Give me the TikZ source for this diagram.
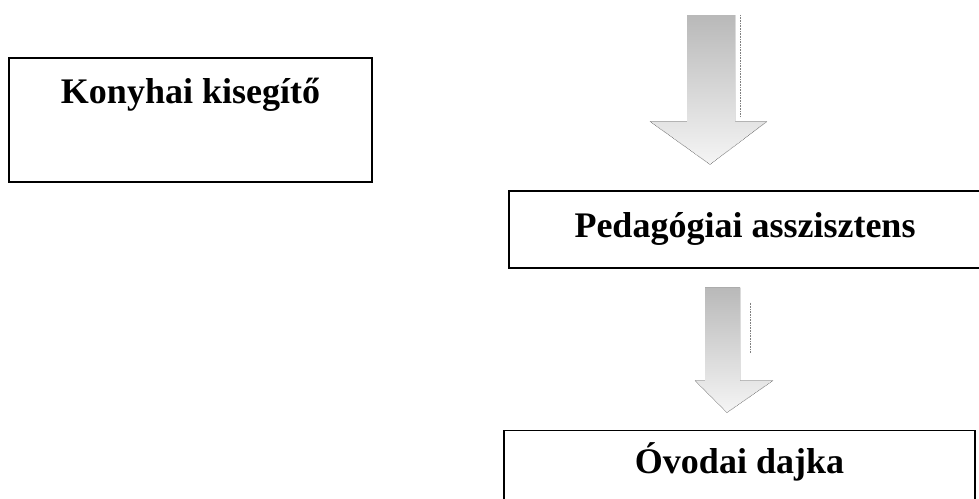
\documentclass[tikz,border=0pt]{standalone}
\usepackage{fontspec}
\setmainfont{Liberation Serif}
\usetikzlibrary{positioning,calc}

\begin{document}
\begin{tikzpicture}[
        x=1pt, y=-1pt, line width=1.1pt
    ]

    \tikzstyle{block} = [rectangle,draw,inner ysep=0pt,
        font=\bfseries\fontsize{36}{40}\selectfont]
    \tikzstyle{arrowfill} = [top color=gray!55, bottom color=gray!8, draw=none]
    \tikzstyle{arrowedge} = [gray, line width=0.6pt, densely dotted]

    \useasboundingbox (0,0) rectangle (979,498);

    \node[block, minimum width=363pt, text height=45pt, text depth=79pt]
        (konyha) at (190.5,120) {Konyhai kisegítő};
    \node[block, minimum width=472pt, text height=46pt, text depth=31pt]
        (pedag) at (745,229.5) {Pedagógiai asszisztens};
    \node[block, minimum width=471pt, text height=43pt, text depth=38pt]
        (ovoda) [below=161pt of pedag, xshift=-5.5pt] {Óvodai dajka};

    % arrow into the assistant box
    \coordinate (a1top) at (711,15);
    \coordinate (a1tip) at ($(pedag.north)+(-35,-26)$);
    \fill[arrowfill] ($(a1top)+(-24,0)$) -- ($(a1top)+(24,0)$)
        -- ($(a1tip)+(25,-43)$) -- ($(a1tip)+(57,-43)$) -- (a1tip)
        -- ($(a1tip)+(-60,-43)$) -- ($(a1tip)+(-23,-43)$) -- cycle;
    \draw[arrowedge] ($(a1tip)+(-60,-43)$) -- (a1tip) -- ($(a1tip)+(57,-43)$);
    \draw[arrowedge] ($(a1top)+(29,0)$) -- ($(a1top)+(29,102)$);

    % arrow from assistant to nursery
    \coordinate (a2top) at ($(pedag.south)+(-22,19)$);
    \coordinate (a2tip) at ($(ovoda.north)+(-12.5,-17)$);
    \fill[arrowfill] ($(a2top)+(-18,0)$) -- ($(a2top)+(17,0)$)
        -- ($(a2tip)+(13,-32)$) -- ($(a2tip)+(46,-32)$) -- (a2tip)
        -- ($(a2tip)+(-32,-32)$) -- ($(a2tip)+(-22,-32)$) -- cycle;
    \draw[arrowedge] ($(a2tip)+(-32,-32)$) -- (a2tip) -- ($(a2tip)+(46,-32)$);
    \draw[arrowedge] ($(a2top)+(27,15)$) -- ($(a2top)+(27,66)$);

\end{tikzpicture}
\end{document}
